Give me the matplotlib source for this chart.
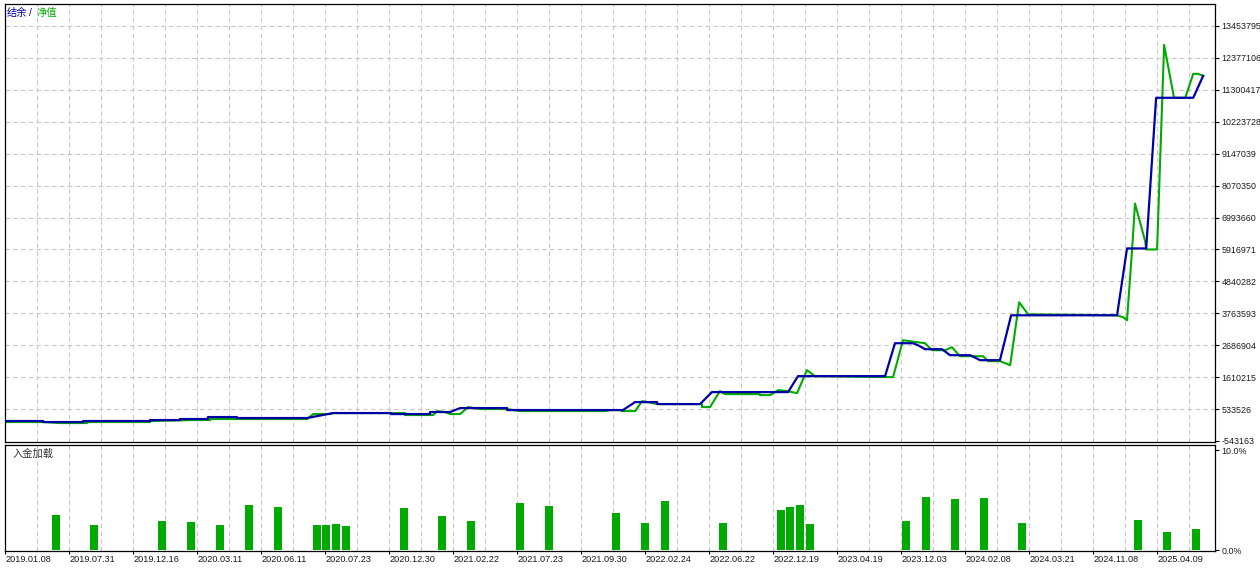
import matplotlib
matplotlib.use("Agg")
import matplotlib.pyplot as plt

# x axis is the tester's deal-slot axis: one unit = one vertical grid step
date_labels = ["2019.01.08", "2019.07.31", "2019.12.16", "2020.03.11", "2020.06.11",
               "2020.07.23", "2020.12.30", "2021.02.22", "2021.07.23", "2021.09.30",
               "2022.02.24", "2022.06.22", "2022.12.19", "2023.04.19", "2023.12.03",
               "2024.02.08", "2024.03.21", "2024.11.08", "2025.04.09"]
date_pos = [0, 2, 4, 6, 8, 10, 12, 14, 16, 18, 20, 22, 24, 26, 28, 30, 32, 34, 36]

value_ticks = [-543163, 533526, 1610215, 2686904, 3763593, 4840282, 5916971,
               6993660, 8070350, 9147039, 10223728, 11300417, 12377106, 13453795]

# balance (结余)
balance_x = [0, 1.19, 1.19, 2.44, 2.44, 4.53, 4.53, 5.47, 5.47, 6.34, 6.34, 7.25,
             7.25, 9.44, 10.25, 12.06, 12.06, 13.28, 13.28, 13.91, 14.22, 15.69,
             15.69, 19.31, 19.69, 20.38, 20.38, 21.72, 22.09, 24.47, 24.78, 27.5,
             27.81, 28.38, 28.59, 28.75, 29.28, 29.53, 30.16, 30.47, 31.09, 31.44,
             34.75, 35.06, 35.66, 35.97, 37.13, 37.44]
balance_y = [130e3, 130e3, 96e3, 96e3, 130e3, 130e3, 163e3, 163e3, 197e3, 197e3,
             264e3, 264e3, 231e3, 231e3, 399e3, 399e3, 365e3, 365e3, 433e3, 433e3,
             567e3, 567e3, 500e3, 500e3, 769e3, 769e3, 702e3, 702e3, 1106e3, 1106e3,
             1644e3, 1644e3, 2754e3, 2754e3, 2653e3, 2552e3, 2552e3, 2350e3, 2350e3,
             2182e3, 2182e3, 3696e3, 3696e3, 5951e3, 5951e3, 11031e3, 11031e3, 11771e3]

# equity (净值)
equity_x = [0, 1.19, 1.72, 2.56, 2.56, 4.53, 4.53, 5.88, 6.41, 6.41, 7.25, 9.44,
            9.63, 10.16, 10.25, 12.5, 12.5, 13.38, 13.5, 13.75, 13.91, 14.22, 14.47,
            14.84, 15.69, 16.09, 18.75, 18.91, 19.22, 19.28, 19.69, 19.91, 20.38,
            20.69, 21.78, 21.78, 22.03, 22.34, 22.5, 23.59, 23.59, 23.91, 24.16,
            24.44, 24.75, 25.06, 25.31, 27.75, 28.06, 28.28, 28.75, 28.97, 29.38,
            29.59, 29.84, 30.56, 30.72, 31.09, 31.41, 31.69, 31.97, 34.75, 34.94,
            35.06, 35.22, 35.31, 35.63, 35.66, 36.0, 36.22, 36.53, 36.88, 37.13,
            37.28, 37.44]
equity_y = [96e3, 96e3, 62e3, 62e3, 96e3, 96e3, 130e3, 163e3, 163e3, 197e3, 197e3,
            197e3, 365e3, 365e3, 399e3, 399e3, 332e3, 332e3, 466e3, 433e3, 365e3,
            365e3, 601e3, 534e3, 534e3, 466e3, 466e3, 500e3, 500e3, 466e3, 466e3,
            803e3, 702e3, 702e3, 702e3, 601e3, 601e3, 1139e3, 1038e3, 1038e3,
            1005e3, 1005e3, 1173e3, 1139e3, 1072e3, 1846e3, 1644e3, 1610e3, 2855e3,
            2821e3, 2754e3, 2519e3, 2519e3, 2620e3, 2317e3, 2317e3, 2149e3, 2149e3,
            2014e3, 4134e3, 3730e3, 3696e3, 3629e3, 3528e3, 5917e3, 7465e3, 6186e3,
            5917e3, 5917e3, 12815e3, 11031e3, 11031e3, 11839e3, 11839e3, 11771e3]

# deposit load (入金加载), percent
deposit_x = [1.59, 2.78, 4.91, 5.81, 6.72, 7.63, 8.53, 9.75, 10.03, 10.34, 10.66,
             12.47, 13.66, 14.56, 16.09, 17.0, 19.09, 20.0, 20.63, 22.44, 24.25,
             24.53, 24.84, 25.16, 28.16, 28.78, 29.69, 30.59, 31.78, 35.41, 36.31,
             37.22]
deposit_pct = [3.5, 2.5, 2.9, 2.8, 2.5, 4.5, 4.3, 2.5, 2.5, 2.6, 2.4, 4.2, 3.4, 2.9,
               4.7, 4.4, 3.7, 2.7, 4.9, 2.7, 4.0, 4.3, 4.5, 2.6, 2.9, 5.3, 5.1, 5.2,
               2.7, 3.0, 1.8, 2.1]

BLUE = "#0000a8"
GREEN = "#00aa00"
GRID = "#c8c8c8"
X_MAX = 37.81
CJK = ["Noto Sans CJK SC", "DejaVu Sans"]

plt.rcParams["font.family"] = ["Liberation Sans", "Noto Sans CJK SC", "DejaVu Sans"]

fig = plt.figure(figsize=(12.6, 5.68), dpi=100)
ax = fig.add_axes([5 / 1260, 1 - 442 / 568, 1210 / 1260, 438 / 568])
ax2 = fig.add_axes([5 / 1260, 1 - 551 / 568, 1210 / 1260, 106 / 568])

grid_kw = dict(color=GRID, linewidth=0.8, dashes=(4, 3))
for a in (ax, ax2):
    for x in range(1, 38):
        a.axvline(x, zorder=0, **grid_kw)
    for s in a.spines.values():
        s.set_linewidth(0.9)
        s.set_color("black")
    a.set_xlim(0, X_MAX)
    a.yaxis.tick_right()
    a.tick_params(axis="y", length=3, width=0.8, pad=1.5, labelsize=6.4,
                  labelcolor="#1a1a1a")

# main panel
for v in value_ticks[1:]:
    ax.axhline(v, zorder=0, **grid_kw)
ax.plot(equity_x, equity_y, color=GREEN, linewidth=1.5, zorder=2)
ax.plot(balance_x, balance_y, color=BLUE, linewidth=1.6, zorder=3)
ax.set_ylim(-543163 - 34000, 14194000)
ax.set_yticks(value_ticks)
ax.set_yticklabels([str(v) for v in value_ticks])
ax.set_xticks([])

fig.text(7 / 1260, 1 - 13 / 568, "结余", color=BLUE, fontsize=7.4, va="center",
         family=CJK)
fig.text(29 / 1260, 1 - 13 / 568, "/", color=BLUE, fontsize=7.4, va="center")
fig.text(36 / 1260, 1 - 13 / 568, "净值", color=GREEN, fontsize=7.4, va="center",
         family=CJK)

# deposit load panel
ax2.bar(deposit_x, deposit_pct, width=0.25, color=GREEN, zorder=2)
ax2.set_ylim(-0.1, 10.5)
ax2.set_yticks([0, 10])
ax2.set_yticklabels(["0.0%", "10.0%"])
ax2.set_xticks(date_pos)
ax2.set_xticklabels(date_labels)
ax2.tick_params(axis="x", length=2, width=0.8, pad=1, labelsize=6.6,
                labelcolor="#1a1a1a")
for lbl in ax2.get_xticklabels():
    lbl.set_ha("left")
ax2.text(8 / 1210, 1 - 9 / 106, "入金加载", transform=ax2.transAxes,
         fontsize=7.4, va="center", color="#333333", family=CJK)

fig.savefig("out.png", dpi=100)
